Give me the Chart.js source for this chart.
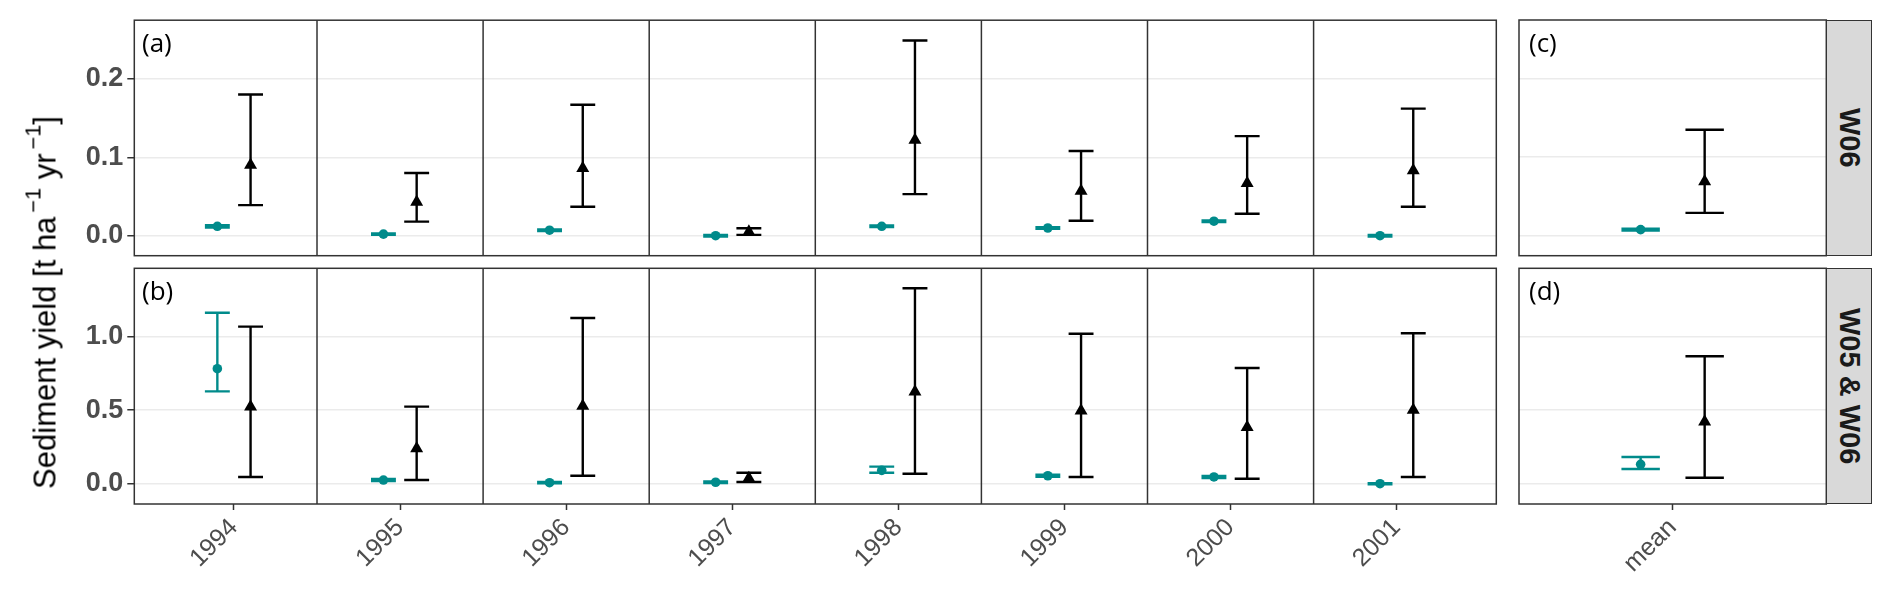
<!DOCTYPE html>
<html lang="en">
<head>
<meta charset="UTF-8">
<title>Sediment yield</title>
<script src="https://cdn.jsdelivr.net/npm/chart.js"></script>
<style>
  body { margin: 0; background: #fff; }
  #page { position: relative; width: 1892px; height: 599px; overflow: hidden; }
  #page canvas { position: absolute; left: 0; top: 0; }
  .tag { position: absolute; font: 26px 'Open Sans', sans-serif; line-height: 26px; color: #000; }
  .strip { position: absolute; box-sizing: border-box; background: #d9d9d9; border: 1.5px solid #333;
           display: flex; align-items: center; justify-content: center; }
  .strip span { writing-mode: vertical-rl; font: bold 29px 'Liberation Sans', Arial, sans-serif; color: #1a1a1a; }
  #ytitle { position: absolute; left: -207px; top: 286.5px; width: 500px; height: 31px; line-height: 31px;
            text-align: center; font: 31px 'Liberation Sans', Arial, sans-serif; color: #000;
            transform: rotate(-90deg); white-space: nowrap; }
  #ytitle sup { font-size: 0.7em; position: relative; top: -0.15em; margin-left: 4px; line-height: 0; }
</style>
</head>
<body>
<div id="page">
  <canvas id="w06Years" width="1892" height="599"></canvas>
  <canvas id="w06Mean" width="1892" height="599"></canvas>
  <canvas id="bothYears" width="1892" height="599"></canvas>
  <canvas id="bothMean" width="1892" height="599"></canvas>
  <div id="ytitle">Sediment yield [t ha<sup>−1</sup> yr<sup>−1</sup>]</div>
  <div class="tag" style="left:142px;top:29px">(a)</div>
  <div class="tag" style="left:142px;top:277px">(b)</div>
  <div class="tag" style="left:1529px;top:29px">(c)</div>
  <div class="tag" style="left:1529px;top:277px">(d)</div>
  <div class="strip" style="left:1826px;top:20px;width:46px;height:236px"><span>W06</span></div>
  <div class="strip" style="left:1826px;top:268px;width:46px;height:236px"><span>W05 &amp; W06</span></div>
</div>
<script>
// categories
const years = ['1994', '1995', '1996', '1997', '1998', '1999', '2000', '2001'];
const meanLabels = ['mean'];

// row W06 – teal circles
const w06Teal   = [0.012, 0.002, 0.007, 0.000, 0.012, 0.0098, 0.0185, 0.000];
const w06TealLo = [0.0105, 0.001, 0.006, -0.001, 0.011, 0.0088, 0.0175, -0.001];
const w06TealHi = [0.0135, 0.003, 0.008, 0.001, 0.013, 0.0108, 0.0195, 0.001];
// row W06 – black triangles
const w06Black   = [0.090, 0.043, 0.086, 0.005, 0.122, 0.057, 0.067, 0.083];
const w06BlackLo = [0.039, 0.018, 0.037, 0.001, 0.053, 0.019, 0.028, 0.037];
const w06BlackHi = [0.180, 0.080, 0.167, 0.0095, 0.249, 0.108, 0.127, 0.162];
// row W06 – mean panel
const w06MeanTeal = [0.0077], w06MeanTealLo = [0.0065], w06MeanTealHi = [0.009];
const w06MeanBlack = [0.069], w06MeanBlackLo = [0.029], w06MeanBlackHi = [0.135];

// row W05 & W06 – teal circles
const bothTeal   = [0.782, 0.025, 0.007, 0.010, 0.091, 0.054, 0.046, 0.000];
const bothTealLo = [0.628, 0.018, 0.002, 0.005, 0.075, 0.047, 0.039, -0.004];
const bothTealHi = [1.163, 0.032, 0.012, 0.015, 0.116, 0.061, 0.053, 0.004];
// row W05 & W06 – black triangles
const bothBlack   = [0.524, 0.240, 0.529, 0.037, 0.626, 0.497, 0.384, 0.501];
const bothBlackLo = [0.046, 0.025, 0.054, 0.012, 0.068, 0.046, 0.034, 0.046];
const bothBlackHi = [1.068, 0.524, 1.127, 0.075, 1.329, 1.020, 0.787, 1.023];
// row W05 & W06 – mean panel
const bothMeanTeal = [0.132], bothMeanTealLo = [0.100], bothMeanTealHi = [0.182];
const bothMeanBlack = [0.422], bothMeanBlackLo = [0.041], bothMeanBlackHi = [0.867];

// y tick labels per row
const w06Ticks = [0, 0.1, 0.2];
const bothTicks = [0, 0.5, 1.0];

const TEAL = '#008b8b';
const BLACK = '#000000';

function whiskers(xs, lo, hi, cap) {
  const pts = [];
  xs.forEach((x, i) => {
    pts.push({x: x, y: lo[i]}, {x: x, y: hi[i]}, {x: x, y: null});
    pts.push({x: x - cap, y: hi[i]}, {x: x + cap, y: hi[i]}, {x: x, y: null});
    pts.push({x: x - cap, y: lo[i]}, {x: x + cap, y: lo[i]}, {x: x, y: null});
  });
  return pts;
}

const framePlugin = {
  id: 'frame',
  beforeDatasetsDraw(chart, args, opts) {
    const {ctx, chartArea: a} = chart;
    const x = chart.scales.x;
    ctx.save();
    ctx.strokeStyle = '#333';
    ctx.lineWidth = 1.5;
    (opts.separators || []).forEach(v => {
      const px = x.getPixelForValue(v);
      ctx.beginPath();
      ctx.moveTo(px, a.top);
      ctx.lineTo(px, a.bottom);
      ctx.stroke();
    });
    ctx.restore();
  },
  afterDatasetsDraw(chart) {
    const {ctx, chartArea: a} = chart;
    ctx.save();
    ctx.strokeStyle = '#333';
    ctx.lineWidth = 1.5;
    ctx.strokeRect(a.left, a.top, a.right - a.left, a.bottom - a.top);
    ctx.restore();
  }
};

function panel(id, p) {
  const xs = p.labels.map((_, i) => i + 1);
  const yWidth = p.showY ? 134.3 : 10;
  const xHeight = p.showX ? 95 : 0;
  new Chart(document.getElementById(id), {
    type: 'scatter',
    data: {
      datasets: [
        { data: xs.map((x, i) => ({x: x - p.dodge, y: p.teal[i]})), pointStyle: 'circle', pointRadius: 4.8,
          backgroundColor: TEAL, borderWidth: 0, order: 0 },
        { data: xs.map((x, i) => ({x: x + p.dodge, y: p.black[i]})), pointStyle: 'triangle', pointRadius: 7.5,
          backgroundColor: BLACK, borderWidth: 0, order: 0 },
        { data: whiskers(xs.map(x => x - p.dodge), p.tealLo, p.tealHi, 0.075), showLine: true, spanGaps: false,
          pointRadius: 0, borderColor: TEAL, borderWidth: 2.4, order: 1 },
        { data: whiskers(xs.map(x => x + p.dodge), p.blackLo, p.blackHi, 0.075), showLine: true, spanGaps: false,
          pointRadius: 0, borderColor: BLACK, borderWidth: 2.4, order: 1 }
      ]
    },
    options: {
      responsive: false,
      animation: false,
      events: [],
      layout: {
        autoPadding: false,
        padding: {
          left: p.left - yWidth,
          top: p.top,
          right: 1892 - p.right,
          bottom: 599 - p.bottom - xHeight
        }
      },
      plugins: {
        legend: { display: false },
        tooltip: { enabled: false },
        frame: { separators: xs.slice(1).map(x => x - 0.5) }
      },
      scales: {
        x: {
          type: 'linear',
          display: p.showX,
          min: 0.4,
          max: p.labels.length + 0.6,
          afterBuildTicks: s => { s.ticks = xs.map(v => ({value: v})); },
          afterFit: s => { if (p.showX) s.height = xHeight; },
          grid: { drawOnChartArea: false, drawTicks: true, tickLength: 6, tickColor: '#333', tickWidth: 1.5 },
          border: { display: false },
          ticks: {
            autoSkip: false,
            minRotation: 45,
            maxRotation: 45,
            padding: 3,
            color: '#4d4d4d',
            font: { family: "'Liberation Sans', Arial, sans-serif", size: 25 },
            callback: v => p.labels[v - 1]
          }
        },
        y: {
          type: 'linear',
          min: p.yMin,
          max: p.yMax,
          afterBuildTicks: s => { s.ticks = p.yTicks.map(v => ({value: v})); },
          afterFit: s => { s.width = yWidth; },
          grid: { color: '#ebebeb', lineWidth: 1.5, drawTicks: p.showY, tickLength: 7, tickColor: '#333', tickWidth: 1.5 },
          border: { display: false },
          ticks: {
            display: p.showY,
            padding: 4,
            color: '#4d4d4d',
            font: { family: "'Liberation Sans', Arial, sans-serif", size: 27, weight: 'bold' },
            callback: v => v.toFixed(1)
          }
        }
      }
    },
    plugins: [framePlugin]
  });
}

const topRow = { top: 20, bottom: 255.7, yMin: -0.0255, yMax: 0.2748, yTicks: w06Ticks, showX: false };
const botRow = { top: 268.3, bottom: 504, yMin: -0.138, yMax: 1.465, yTicks: bothTicks, showX: true };
const yearCols = { left: 134.3, right: 1496.3, labels: years, dodge: 0.1, showY: true };
const meanCols = { left: 1519, right: 1826.3, labels: meanLabels, dodge: 0.125, showY: false };

panel('w06Years', Object.assign({}, topRow, yearCols, {
  teal: w06Teal, tealLo: w06TealLo, tealHi: w06TealHi, black: w06Black, blackLo: w06BlackLo, blackHi: w06BlackHi }));
panel('w06Mean', Object.assign({}, topRow, meanCols, {
  teal: w06MeanTeal, tealLo: w06MeanTealLo, tealHi: w06MeanTealHi, black: w06MeanBlack, blackLo: w06MeanBlackLo, blackHi: w06MeanBlackHi }));
panel('bothYears', Object.assign({}, botRow, yearCols, {
  teal: bothTeal, tealLo: bothTealLo, tealHi: bothTealHi, black: bothBlack, blackLo: bothBlackLo, blackHi: bothBlackHi }));
panel('bothMean', Object.assign({}, botRow, meanCols, {
  teal: bothMeanTeal, tealLo: bothMeanTealLo, tealHi: bothMeanTealHi, black: bothMeanBlack, blackLo: bothMeanBlackLo, blackHi: bothMeanBlackHi }));
</script>
</body>
</html>
